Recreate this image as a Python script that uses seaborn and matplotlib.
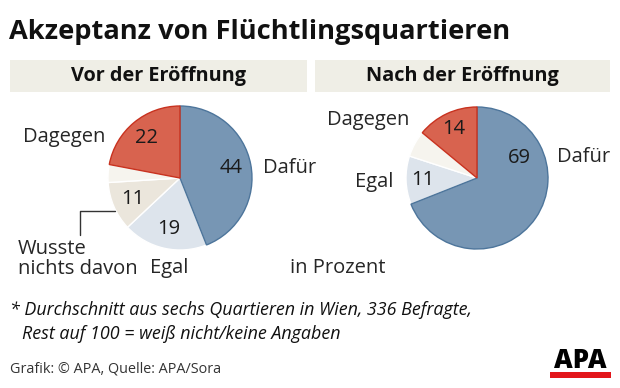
import matplotlib
matplotlib.use("Agg")
import matplotlib.pyplot as plt
from matplotlib.patches import Rectangle
import numpy as np
import seaborn as sns

sns.set_theme(style="white")
plt.rcParams['font.family'] = ['Open Sans', 'DejaVu Sans']

# Daten (Prozent)
vor_kategorien = ["Dafür", "Egal", "Wusste nichts davon", "Rest", "Dagegen"]
vor_werte = [44, 19, 11, 4, 22]
nach_kategorien = ["Dafür", "Egal", "Rest", "Dagegen"]
nach_werte = [69, 11, 6, 14]

farben = {"Dafür": "#7796b4", "Egal": "#dde4ec", "Wusste nichts davon": "#ebe6dc",
          "Rest": "#f6f4ee", "Dagegen": "#d8634f"}
raender = {"Dafür": "#4d759b", "Dagegen": "#c8321f"}

W, H = 620, 388
fig = plt.figure(figsize=(W / 100, H / 100), dpi=100)
fig.patch.set_facecolor("white")


def px(x, y):
    # Pixel (oben links) -> Figure-Koordinaten
    return x / W, 1 - y / H


def torte(cx, cy, r, kategorien, werte):
    ax = fig.add_axes([(cx - r) / W, 1 - (cy + r) / H, 2 * r / W, 2 * r / H])
    wedges, _ = ax.pie(werte, startangle=90, counterclock=False, radius=1,
                       colors=[farben[k] for k in kategorien])
    for w, k in zip(wedges, kategorien):
        w.set_edgecolor(raender.get(k, "white"))
        w.set_linewidth(1.0)
        if k in raender:
            w.set_zorder(3)  # farbige Ränder nach oben
    ax.set_xlim(-1, 1)
    ax.set_ylim(-1, 1)
    ax.axis("off")
    return ax, wedges


def zahl(ax, wedge, wert, dist=0.7, winkel=None):
    if winkel is None:
        winkel = (wedge.theta1 + wedge.theta2) / 2
    a = np.deg2rad(winkel)
    ax.text(dist * np.cos(a), dist * np.sin(a), str(wert), ha="center", va="center",
            fontsize=14.5, color="#1a1a1a", zorder=5)


# Titel
fig.text(*px(9, 32), "Akzeptanz von Flüchtlingsquartieren", fontsize=19.6,
         fontweight="bold", ha="left", va="center", color="#111111")

# Kopfbalken
for x0, x1, txt in [(10, 307, "Vor der Eröffnung"), (315, 610, "Nach der Eröffnung")]:
    fig.patches.append(Rectangle(px(x0, 92), (x1 - x0) / W, 32 / H,
                                 transform=fig.transFigure, facecolor="#efeee6",
                                 edgecolor="none"))
    fig.text(*px((x0 + x1) / 2, 76), txt, fontsize=14.3, fontweight="bold",
             ha="center", va="center", color="#111111")

# Linke Torte
ax1, w1 = torte(180, 178, 72, vor_kategorien, vor_werte)
for w, k, v in zip(w1, vor_kategorien, vor_werte):
    if k != "Rest":
        zahl(ax1, w, v, dist=0.72)

fs = 14.5
fig.text(*px(23, 137), "Dagegen", fontsize=fs, ha="left", va="center")
fig.text(*px(263, 168), "Dafür", fontsize=fs, ha="left", va="center")
fig.text(*px(150, 268), "Egal", fontsize=fs, ha="left", va="center")
fig.text(*px(18, 259), "Wusste\nnichts davon", fontsize=fs, ha="left", va="center",
         linespacing=1.0)
fig.lines.append(plt.Line2D([115 / W, 80 / W, 80 / W],
                            [1 - 211 / H, 1 - 211 / H, 1 - 235 / H],
                            transform=fig.transFigure, color="#333333", lw=1))

# Rechte Torte
ax2, w2 = torte(477, 178, 71, nach_kategorien, nach_werte)
for w, k, v in zip(w2, nach_kategorien, nach_werte):
    if k == "Dafür":
        zahl(ax2, w, v, dist=0.66, winkel=25)
    elif k != "Rest":
        zahl(ax2, w, v, dist=0.76)

fig.text(*px(327, 120), "Dagegen", fontsize=fs, ha="left", va="center")
fig.text(*px(557, 157), "Dafür", fontsize=fs, ha="left", va="center")
fig.text(*px(355, 182), "Egal", fontsize=fs, ha="left", va="center")
fig.text(*px(290, 268), "in Prozent", fontsize=fs, ha="left", va="center")

# Fußnote
fig.text(*px(10, 310), "* Durchschnitt aus sechs Quartieren in Wien, 336 Befragte,",
         fontsize=12.9, style="italic", ha="left", va="center", color="#111111")
fig.text(*px(22, 334), "Rest auf 100 = weiß nicht/keine Angaben",
         fontsize=12.9, style="italic", ha="left", va="center", color="#111111")
fig.text(*px(10, 369), "Grafik: © APA, Quelle: APA/Sora", fontsize=10.4,
         ha="left", va="center", color="#333333")

# APA Logo
fig.patches.append(Rectangle(px(550, 378), 61 / W, 6 / H, transform=fig.transFigure,
                             facecolor="#e3161b", edgecolor="none"))
fig.text(*px(580, 361), "APA", fontsize=18.5, fontweight="black", ha="center",
         va="center", color="black")

fig.savefig("out.png", dpi=100, facecolor="white")
